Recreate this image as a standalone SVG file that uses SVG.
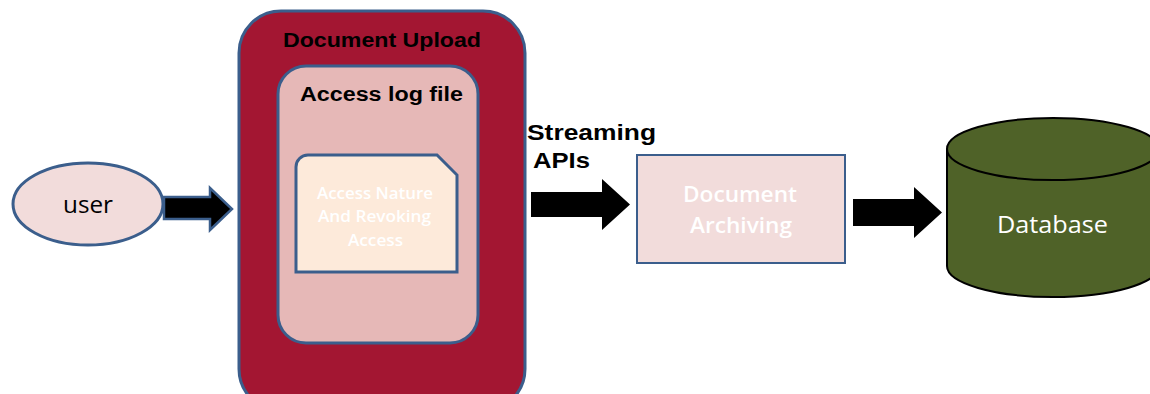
<svg xmlns="http://www.w3.org/2000/svg" width="1150" height="394" viewBox="0 0 1150 394">
<style>
.blue{stroke:#3b5e8c;}
.hd{font-family:"Liberation Sans",Arial,sans-serif;font-weight:bold;fill:#000;}
.cal{font-family:"Open Sans","Noto Sans",sans-serif;}
.wt{fill:#ffffff;}
</style>
<rect width="1150" height="394" fill="#ffffff"/>
<g id="user">
<ellipse cx="88" cy="204" rx="75" ry="41" fill="#f2dcdb" class="blue" stroke-width="3"/>
<text x="88" y="213" class="cal" font-size="23" text-anchor="middle" fill="#000" textLength="50" lengthAdjust="spacingAndGlyphs">user</text>
</g>
<g id="document-upload">
<rect x="239" y="11" width="286" height="400" rx="42" fill="#a31632" class="blue" stroke-width="3"/>
<text x="283" y="47" class="hd" font-size="20" textLength="198" lengthAdjust="spacingAndGlyphs">Document Upload</text>
</g>
<g id="access-log-file">
<rect x="278" y="66" width="200" height="277" rx="28" fill="#e6b8b7" class="blue" stroke-width="3"/>
<text x="300" y="101" class="hd" font-size="20" textLength="163" lengthAdjust="spacingAndGlyphs">Access log file</text>
</g>
<g id="access-nature">
<path d="M296,167 A12,12 0 0 1 308,155 L437,155 L457,175 L457,272 L296,272 Z" fill="#fdeada" class="blue" stroke-width="3"/>
<text class="cal wt" font-size="16" font-weight="600">
<tspan x="317" y="199" textLength="116" lengthAdjust="spacingAndGlyphs">Access Nature</tspan>
<tspan x="318" y="222" textLength="113" lengthAdjust="spacingAndGlyphs">And Revoking</tspan>
<tspan x="348" y="246" textLength="55" lengthAdjust="spacingAndGlyphs">Access</tspan>
</text>
</g>
<g id="streaming-label">
<text class="hd" font-size="22"><tspan x="527" y="140" textLength="129" lengthAdjust="spacingAndGlyphs">Streaming</tspan><tspan x="533" y="168" textLength="57" lengthAdjust="spacingAndGlyphs">APIs</tspan></text>
</g>
<g id="document-archiving">
<rect x="637" y="155" width="208" height="108" fill="#f2dcdb" class="blue" stroke-width="2"/>
<text class="cal wt" font-size="22" font-weight="600"><tspan x="683" y="202" textLength="114" lengthAdjust="spacingAndGlyphs">Document</tspan><tspan x="690" y="233" textLength="102" lengthAdjust="spacingAndGlyphs">Archiving</tspan></text>
</g>
<g id="database">
<path d="M947,149 L947,266 A106,31 0 0 0 1159,266 L1159,149" fill="#4f6228" stroke="#000" stroke-width="2"/>
<ellipse cx="1053" cy="149" rx="106" ry="31" fill="#4f6228" stroke="#000" stroke-width="2"/>
<text x="997" y="233" class="cal wt" font-size="24" textLength="111" lengthAdjust="spacingAndGlyphs">Database</text>
</g>
<g id="connectors">
<path d="M164,197 L210,197 L210,188 L232,209 L210,230 L210,219 L164,219 Z" fill="#000" class="blue" stroke-width="2.5" stroke-linejoin="miter"/>
<path d="M531,192 L602,192 L602,179 L630,204.5 L602,230 L602,217 L531,217 Z" fill="#000"/>
<path d="M853,199 L914,199 L914,187 L942,212.5 L914,238 L914,226 L853,226 Z" fill="#000"/>
</g>
</svg>
